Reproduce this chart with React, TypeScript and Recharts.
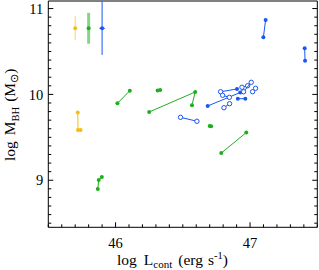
import { ErrorBar, Label, Scatter, ScatterChart, XAxis, YAxis } from "recharts";

const X_DOMAIN = [45.5, 47.5];
const Y_DOMAIN = [8.452, 11.088];

const YELLOW = "#f5bf10";
const GREEN = "#1fae1f";
const BLUE = "#1a56f0";

// typical uncertainties, top left
const errYellow = [{ x: 45.7, y: 10.77, ey: 0.14 }];
const errGreen = [{ x: 45.8, y: 10.77, ey: 0.18 }];
const errBlue = [{ x: 45.9, y: 10.77, ey: 0.31, ex: 0.02 }];

// tracks: [logL, logM, open?]
const yellowTracks: [number, number, number][][] = [
  [[45.719, 9.789, 0], [45.721, 9.585, 0], [45.74, 9.585, 0]],
];

const greenTracks: [number, number, number][][] = [
  [[45.868, 8.898, 0], [45.875, 9.003, 0], [45.898, 9.038, 0]],
  [[46.014, 9.896, 0], [46.106, 10.043, 0]],
  [[46.313, 10.045, 0], [46.332, 10.051, 0]],
  [[46.25, 9.795, 0], [46.592, 10.028, 0], [46.568, 9.873, 0]],
  [[46.7, 9.632, 0], [46.711, 9.63, 0]],
  [[46.786, 9.317, 0], [46.972, 9.556, 0]],
];

const blueTracks: [number, number, number][][] = [
  [[47.116, 10.867, 0], [47.099, 10.665, 0]],
  [[47.406, 10.537, 0], [47.409, 10.393, 0]],
  [[46.483, 9.733, 1], [46.605, 9.687, 1]],
  [[46.685, 9.865, 0], [46.927, 10.022, 0]],
  [[46.781, 10.031, 1], [46.903, 10.063, 0]],
  [[46.909, 9.95, 0], [46.965, 9.95, 0]],
  [[46.806, 9.845, 1], [46.848, 9.892, 1]],
  [[46.796, 9.99, 1], [46.846, 9.966, 1]],
  [[46.94, 10.083, 1], [46.982, 10.101, 1]],
  [[46.952, 10.031, 1], [47.009, 10.141, 1]],
  [[47.019, 10.031, 1], [47.041, 10.071, 1]],
];

const xTicks: number[] = [];
for (let i = 0; i <= 20; i++) xTicks.push(Math.round((45.5 + i * 0.1) * 10) / 10);
const yTicks: number[] = [];
for (let i = 0; i <= 25; i++) yTicks.push(Math.round((8.5 + i * 0.1) * 10) / 10);

const FONT = "Liberation Serif";
const isMajor = (v: number) => Math.abs(v - Math.round(v)) < 1e-6;

const Dot = (color: string) => (p: any) => {
  if (p.cx == null) return <g />;
  const open = p.payload?.open;
  return open ? (
    <circle cx={p.cx} cy={p.cy} r={2.2} fill="#fff" stroke={color} strokeWidth={1} />
  ) : (
    <circle cx={p.cx} cy={p.cy} r={2} fill={color} />
  );
};

const BottomTick = (p: any) => {
  const major = isMajor(p.payload.value);
  return (
    <g>
      <line x1={p.x} x2={p.x} y1={p.y} y2={p.y - (major ? 5 : 3)} stroke="#000" />
      {major && (
        <text x={p.x} y={p.y + 21} textAnchor="middle" fontSize={14.5} fontFamily={FONT} fill="#000">
          {p.payload.value}
        </text>
      )}
    </g>
  );
};

const TopTick = (p: any) => {
  const major = isMajor(p.payload.value);
  return <line x1={p.x} x2={p.x} y1={p.y} y2={p.y + (major ? 5 : 3)} stroke="#000" />;
};

const LeftTick = (p: any) => {
  const major = isMajor(p.payload.value);
  return (
    <g>
      <line x1={p.x} x2={p.x + (major ? 5 : 3)} y1={p.y} y2={p.y} stroke="#000" />
      {major && (
        <text x={p.x - 5} y={p.y} dy="0.36em" textAnchor="end" fontSize={14.5} fontFamily={FONT} fill="#000">
          {p.payload.value}
        </text>
      )}
    </g>
  );
};

const RightTick = (p: any) => {
  const major = isMajor(p.payload.value);
  return <line x1={p.x} x2={p.x - (major ? 5 : 3)} y1={p.y} y2={p.y} stroke="#000" />;
};

function tracks(list: [number, number, number][][], color: string, key: string) {
  return list.map((t, i) => (
    <Scatter
      key={key + i}
      data={t.map(([x, y, open]) => ({ x, y, open }))}
      line={{ stroke: color, strokeWidth: 1 }}
      fill={color}
      shape={Dot(color)}
      isAnimationActive={false}
    />
  ));
}

export default function App() {
  return (
    <div style={{ position: "absolute", left: 0, top: 0, width: 319, height: 270, background: "#fff" }}>
      <ScatterChart width={319} height={270} margin={{ top: 0, right: 0, bottom: 0, left: 0 }}>
        <XAxis
          type="number"
          dataKey="x"
          domain={X_DOMAIN}
          allowDataOverflow
          ticks={xTicks}
          interval={0}
          tickSize={0}
          tickMargin={0}
          tickLine={false}
          height={42.7}
          axisLine={{ stroke: "#000" }}
          tick={BottomTick}
        >
          <Label
            content={() => (
              <text x={117} y={264.5} fontSize={15.5} fontFamily={FONT} fill="#000">
                log
                <tspan dx={7}>L</tspan>
                <tspan fontSize={11} dy={3.5}>cont</tspan>
                <tspan dx={6} dy={-3.5}>(erg</tspan>
                <tspan dx={5}>s</tspan>
                <tspan fontSize={10.5} dy={-6}>-1</tspan>
                <tspan dy={6}>)</tspan>
              </text>
            )}
          />
        </XAxis>
        <XAxis
          xAxisId="top"
          orientation="top"
          type="number"
          domain={X_DOMAIN}
          allowDataOverflow
          ticks={xTicks}
          interval={0}
          tickSize={0}
          tickMargin={0}
          tickLine={false}
          height={1}
          axisLine={{ stroke: "#000" }}
          tick={TopTick}
        />
        <YAxis
          type="number"
          dataKey="y"
          domain={Y_DOMAIN}
          allowDataOverflow
          ticks={yTicks}
          interval={0}
          tickSize={0}
          tickMargin={0}
          tickLine={false}
          width={48.3}
          axisLine={{ stroke: "#000" }}
          tick={LeftTick}
        >
          <Label
            content={() => (
              <text
                x={15}
                y={161}
                transform="rotate(-90 15 161)"
                fontSize={15.5}
                fontFamily={FONT}
                fill="#000"
              >
                log
                <tspan dx={6}>M</tspan>
                <tspan fontSize={10.5} dy={3.5}>BH</tspan>
                <tspan dx={5} dy={-3.5}>(M</tspan>
                <tspan fontSize={11} dy={3}>⊙</tspan>
                <tspan dy={-3}>)</tspan>
              </text>
            )}
          />
        </YAxis>
        <YAxis
          yAxisId="right"
          orientation="right"
          type="number"
          domain={Y_DOMAIN}
          allowDataOverflow
          ticks={yTicks}
          interval={0}
          tickSize={0}
          tickMargin={0}
          tickLine={false}
          width={1.7}
          axisLine={{ stroke: "#000" }}
          tick={RightTick}
        />

        <Scatter data={errYellow} fill={YELLOW} shape={Dot(YELLOW)} isAnimationActive={false}>
          <ErrorBar dataKey="ey" direction="y" width={0} stroke="#f8d45a" strokeWidth={1} />
        </Scatter>
        <Scatter data={errGreen} fill={GREEN} shape={Dot(GREEN)} isAnimationActive={false}>
          <ErrorBar dataKey="ey" direction="y" width={0} stroke="#86d486" strokeWidth={3} />
        </Scatter>
        <Scatter data={errBlue} fill={BLUE} shape={Dot(BLUE)} isAnimationActive={false}>
          <ErrorBar dataKey="ey" direction="y" width={0} stroke={BLUE} strokeWidth={1} />
          <ErrorBar dataKey="ex" direction="x" width={0} stroke={BLUE} strokeWidth={1} />
        </Scatter>

        {tracks(yellowTracks, YELLOW, "y")}
        {tracks(greenTracks, GREEN, "g")}
        {tracks(blueTracks, BLUE, "b")}
      </ScatterChart>
    </div>
  );
}
